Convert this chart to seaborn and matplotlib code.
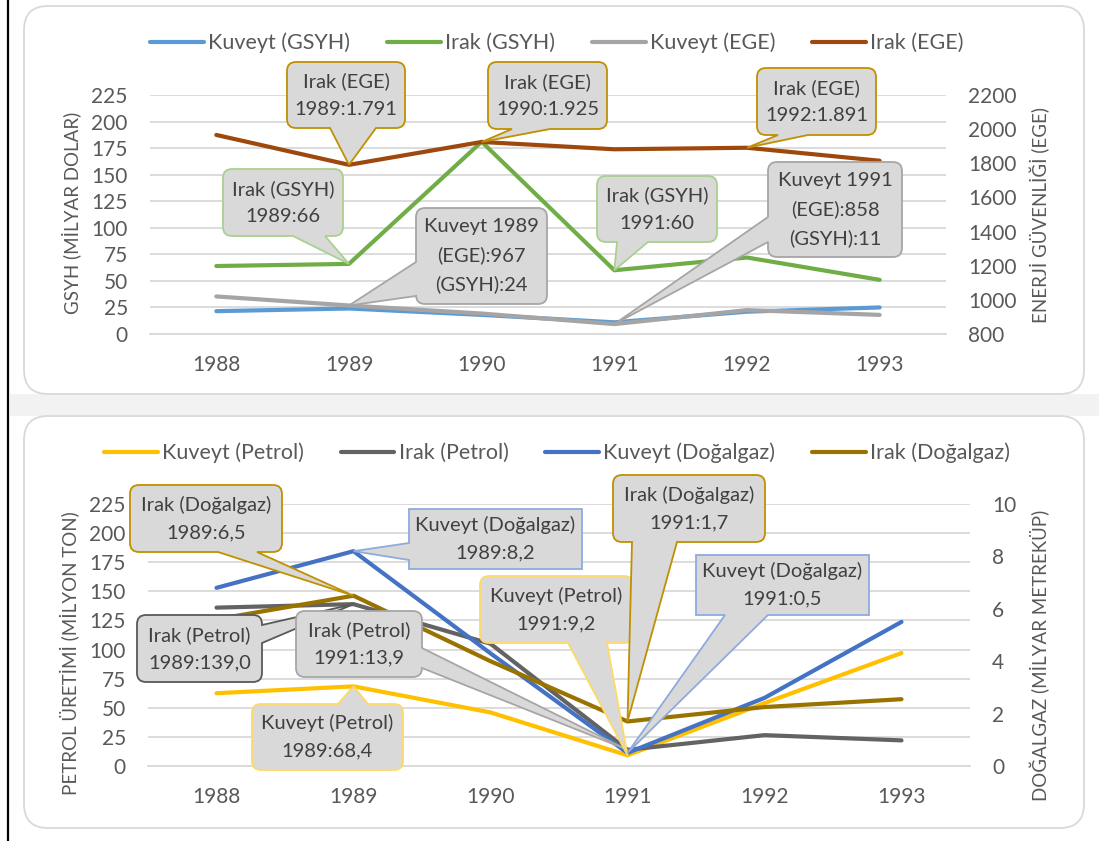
import pandas as pd
import seaborn as sns
import matplotlib
matplotlib.use('Agg')
import matplotlib.pyplot as plt
from matplotlib.path import Path
from matplotlib.patches import PathPatch, FancyBboxPatch, Rectangle
from matplotlib.transforms import IdentityTransform
from matplotlib.lines import Line2D

# ---- data ----
years = ['1988', '1989', '1990', '1991', '1992', '1993']

# top panel: GDP (left axis) and energy security index (right axis)
kuveyt_gsyh = [21.5, 24, 18, 11, 21, 25]
irak_gsyh = [64, 66, 181, 60, 72, 51]
kuveyt_ege = [1020, 967, 920, 858, 940, 912]
irak_ege = [1966, 1791, 1925, 1882, 1891, 1815]

# bottom panel: oil (left axis) and natural gas (right axis)
kuveyt_petrol = [62.5, 68.4, 46, 9.2, 54, 97]
irak_petrol = [136, 139.0, 105, 13.9, 26.5, 22]
kuveyt_dogalgaz = [6.8, 8.2, 4.3, 0.5, 2.6, 5.5]
irak_dogalgaz = [5.6, 6.5, 4.0, 1.7, 2.25, 2.55]

W, H = 1099, 841
TXT = '#595959'
GRID = '#d9d9d9'

sns.set_theme(style='white')
plt.rcParams['font.family'] = ['Lato', 'DejaVu Sans']

fig = plt.figure(figsize=(W / 100, H / 100), dpi=100)
fig.patch.set_facecolor('white')


def px_rect(x0, y0, x1, y1):
    # image pixel box (y down) -> figure fraction rect
    return [x0 / W, 1 - y1 / H, (x1 - x0) / W, (y1 - y0) / H]


# page decoration: grey band, rounded chart panels, black margin line
fig.add_artist(Rectangle((10, H - 416), W, 22, transform=IdentityTransform(),
                         fc='#f2f2f2', ec='none', zorder=-3))
for (x0, y0, x1, y1) in [(24, 6, 1084, 394), (24, 416, 1084, 828)]:
    fig.add_artist(FancyBboxPatch((x0, H - y1), x1 - x0, y1 - y0,
                                  boxstyle='round,pad=0,rounding_size=24',
                                  transform=IdentityTransform(),
                                  fc='white', ec=GRID, lw=1.3, zorder=-2))
fig.add_artist(Line2D([8, 8], [0, H], transform=IdentityTransform(),
                      color='black', lw=1.6, zorder=-1))


def style_axes(ax, ax2, left_ticks, right_ticks, ylim, ylim2):
    ax.set_xlim(-0.5, 5.5)
    ax.set_ylim(*ylim)
    ax2.set_ylim(*ylim2)
    ax.set_yticks(left_ticks)
    ax2.set_yticks(right_ticks)
    ax.set_xticks(range(len(years)))
    ax.set_xticklabels(years)
    ax.set_xticks([i - 0.5 for i in range(len(years) + 1)], minor=True)
    ax.grid(axis='y', color=GRID, lw=1.3)
    ax.set_axisbelow(True)
    for a in (ax, ax2):
        for s in a.spines.values():
            s.set_visible(False)
        a.set_xlabel('')
    ax.spines['bottom'].set_visible(True)
    ax.spines['bottom'].set_color(GRID)
    ax.spines['bottom'].set_linewidth(1.3)
    ax.tick_params(axis='x', which='major', length=0, pad=15, labelsize=15, labelcolor=TXT)
    ax.tick_params(axis='x', which='minor', length=6, width=1.3, color=GRID, direction='out')
    ax.tick_params(axis='y', length=0, pad=16, labelsize=15, labelcolor=TXT)
    ax2.tick_params(axis='y', length=0, pad=16, labelsize=15, labelcolor=TXT)


def draw(ax, df, col, color):
    sns.lineplot(data=df, x='pos', y=col, ax=ax, color=color, lw=3,
                 solid_capstyle='round', legend=False)
    line = ax.lines[-1]
    line.set_label(col)
    return line


# ---------------- top panel ----------------
top = pd.DataFrame({'pos': range(len(years)),
                    'Kuveyt (GSYH)': kuveyt_gsyh, 'Irak (GSYH)': irak_gsyh,
                    'Kuveyt (EGE)': kuveyt_ege, 'Irak (EGE)': irak_ege})
ax = fig.add_axes(px_rect(150, 95, 946, 334))
ax.patch.set_alpha(0)
ax2 = ax.twinx()
h_top = [draw(ax, top, 'Kuveyt (GSYH)', '#5b9bd5'),
         draw(ax, top, 'Irak (GSYH)', '#70ad47'),
         draw(ax2, top, 'Kuveyt (EGE)', '#a5a5a5'),
         draw(ax2, top, 'Irak (EGE)', '#9e480e')]
style_axes(ax, ax2, range(0, 226, 25), range(800, 2201, 200), (0, 225), (800, 2200))
ax.set_ylabel('GSYH (MİLYAR DOLAR)', fontsize=13.5, color=TXT)
ax.yaxis.set_label_coords((72 - 150) / 796, (334 - 213) / 239)
ax2.set_ylabel('ENERJİ GÜVENLİĞİ (EGE)', fontsize=13.5, color=TXT)
ax2.yaxis.set_label_coords((1040 - 150) / 796, (334 - 215) / 239)
for a in (ax, ax2):
    a.yaxis.label.set_va('center')

# ---------------- bottom panel ----------------
bot = pd.DataFrame({'pos': range(len(years)),
                    'Kuveyt (Petrol)': kuveyt_petrol, 'Irak (Petrol)': irak_petrol,
                    'Kuveyt (Doğalgaz)': kuveyt_dogalgaz, 'Irak (Doğalgaz)': irak_dogalgaz})
bx = fig.add_axes(px_rect(148, 504, 970, 766))
bx.patch.set_alpha(0)
bx2 = bx.twinx()
h_bot = [draw(bx, bot, 'Kuveyt (Petrol)', '#ffc000'),
         draw(bx, bot, 'Irak (Petrol)', '#636363'),
         draw(bx2, bot, 'Kuveyt (Doğalgaz)', '#4472c4'),
         draw(bx2, bot, 'Irak (Doğalgaz)', '#997300')]
style_axes(bx, bx2, range(0, 226, 25), range(0, 11, 2), (0, 225), (0, 10))
bx.set_ylabel('PETROL ÜRETİMİ (MİLYON TON)', fontsize=13.5, color=TXT)
bx.yaxis.set_label_coords((70 - 148) / 822, (766 - 653) / 262)
bx2.set_ylabel('DOĞALGAZ (MİLYAR METREKÜP)', fontsize=13.5, color=TXT)
bx2.yaxis.set_label_coords((1040 - 148) / 822, (766 - 655) / 262)
for a in (bx, bx2):
    a.yaxis.label.set_va('center')

# legends
for handles, cy in [(h_top, 43), (h_bot, 453)]:
    fig.legend(handles, [h.get_label() for h in handles], loc='center',
               bbox_to_anchor=(557 / W, 1 - cy / H), ncol=4, frameon=False,
               fontsize=15.5, labelcolor=TXT, handlelength=2.5,
               handletextpad=0.2, columnspacing=1.7)


# ---------------- callouts ----------------
def callout(text, box, side, a, b, axis, xi, val, ec, r=9, z=10):
    x0, y0, x1, y1 = box
    tx, ty = axis.transData.transform((xi, val))
    tip = (tx, H - ty)
    P, C = [], []

    def add(pts, code):
        for p in pts:
            P.append(p)
            C.append(code)

    add([(x0 + r, y0)], Path.MOVETO)
    if side == 'top':
        add([(a, y0), tip, (b, y0)], Path.LINETO)
    add([(x1 - r, y0)], Path.LINETO)
    add([(x1, y0), (x1, y0 + r)], Path.CURVE3)
    if side == 'right':
        add([(x1, a), tip, (x1, b)], Path.LINETO)
    add([(x1, y1 - r)], Path.LINETO)
    add([(x1, y1), (x1 - r, y1)], Path.CURVE3)
    if side == 'bottom':
        add([(b, y1), tip, (a, y1)], Path.LINETO)
    add([(x0 + r, y1)], Path.LINETO)
    add([(x0, y1), (x0, y1 - r)], Path.CURVE3)
    if side == 'left':
        add([(x0, b), tip, (x0, a)], Path.LINETO)
    add([(x0, y0 + r)], Path.LINETO)
    add([(x0, y0), (x0 + r, y0)], Path.CURVE3)
    add([(x0 + r, y0)], Path.CLOSEPOLY)
    path = Path([(x, H - y) for x, y in P], C)
    fig.add_artist(PathPatch(path, transform=IdentityTransform(), fc='#d9d9d9',
                             ec=ec, lw=1.3, joinstyle='miter', zorder=z))
    fig.text((x0 + x1) / 2 / W, 1 - (y0 + y1) / 2 / H, text, ha='center', va='center',
             fontsize=14.5, color='#404040', linespacing=1.75, zorder=z + 0.5)


GOLD, GREEN, LGRAY = '#bf9000', '#a9d18e', '#a6a6a6'
DGRAY, YEL, LBLUE = '#595959', '#ffd966', '#8faadc'

callout('Irak (EGE)\n1989:1.791', (287, 62, 405, 128), 'bottom', 330, 376, ax2, 1, irak_ege[1], GOLD, z=10)
callout('Irak (EGE)\n1990:1.925', (488, 62, 607, 129), 'bottom', 512, 550, ax2, 2, irak_ege[2], GOLD, z=11)
callout('Irak (EGE)\n1992:1.891', (757, 68, 876, 135), 'bottom', 778, 808, ax2, 4, irak_ege[4], GOLD, z=12)
callout('Irak (GSYH)\n1989:66', (223, 169, 343, 236), 'bottom', 293, 325, ax, 1, irak_gsyh[1], GREEN, z=13)
callout('Irak (GSYH)\n1991:60', (597, 176, 717, 242), 'bottom', 617, 648, ax, 3, irak_gsyh[3], GREEN, z=14)
callout('Kuveyt 1989\n(EGE):967\n(GSYH):24', (416, 208, 547, 304), 'left', 262, 296, ax2, 1, kuveyt_ege[1], LGRAY, z=15)
callout('Kuveyt 1991\n(EGE):858\n(GSYH):11', (768, 162, 902, 257), 'left', 217, 242, ax2, 3, kuveyt_ege[3], LGRAY, z=16)

callout('Irak (Doğalgaz)\n1989:6,5', (130, 485, 282, 552), 'bottom', 218, 257, bx2, 1, irak_dogalgaz[1], GOLD, z=10)
callout('Kuveyt (Doğalgaz)\n1989:8,2', (409, 509, 582, 569), 'left', 543, 560, bx2, 1, kuveyt_dogalgaz[1], LBLUE, r=0, z=11)
callout('Irak (Petrol)\n1989:139,0', (137, 615, 262, 682), 'right', 625, 643, bx, 1, irak_petrol[1], DGRAY, z=12)
callout('Irak (Petrol)\n1991:13,9', (296, 611, 422, 677), 'right', 648, 668, bx, 3, irak_petrol[3], LGRAY, z=13)
callout('Kuveyt (Petrol)\n1989:68,4', (252, 704, 403, 770), 'top', 338, 368, bx, 1, kuveyt_petrol[1], YEL, z=14)
callout('Kuveyt (Petrol)\n1991:9,2', (480, 576, 633, 643), 'bottom', 568, 607, bx, 3, kuveyt_petrol[3], YEL, z=15)
callout('Irak (Doğalgaz)\n1991:1,7', (613, 475, 765, 542), 'bottom', 632, 677, bx2, 3, irak_dogalgaz[3], GOLD, z=16)
callout('Kuveyt (Doğalgaz)\n1991:0,5', (696, 555, 869, 615), 'bottom', 725, 768, bx2, 3, kuveyt_dogalgaz[3], LBLUE, r=0, z=17)

fig.savefig('out.png', dpi=100)
